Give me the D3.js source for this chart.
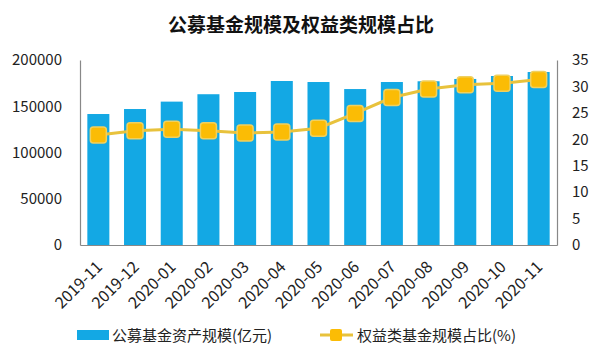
<!DOCTYPE html>
<html><head><meta charset="utf-8">
<script src="https://cdn.jsdelivr.net/npm/d3@7/dist/d3.min.js"></script>
<style>body{margin:0;background:#fff}svg{display:block}</style>
</head><body>
<svg id="c" width="600" height="361"></svg>
<script>
const categories = ["2019-11","2019-12","2020-01","2020-02","2020-03","2020-04","2020-05","2020-06","2020-07","2020-08","2020-09","2020-10","2020-11"];
const fundScale = [141600,147000,155000,163000,165400,177300,176200,168600,176200,177000,179500,182700,187000];
const equityShare = [20.8,21.6,21.9,21.6,21.2,21.4,22.1,24.9,27.9,29.5,30.3,30.6,31.3];
const leftTicks = [0,50000,100000,150000,200000];
const rightTicks = [0,5,10,15,20,25,30,35];
const title = "公募基金规模及权益类规模占比";
const legendBar = "公募基金资产规模(亿元)";
const legendLine = "权益类基金规模占比(%)";

const font = "'Noto Sans CJK SC','Noto Sans',sans-serif";
const svg = d3.select("#c");
const m = {l:80, r:557, t:60, b:245};
const x = d3.scaleBand().domain(categories).range([m.l, m.r]).paddingInner(0.4).paddingOuter(0.2);
const yL = d3.scaleLinear().domain([0,200000]).range([m.b, m.t]);
const yR = d3.scaleLinear().domain([0,35]).range([m.b, m.t]);

svg.append("text").attr("x",301).attr("y",32).attr("text-anchor","middle")
  .attr("font-family",font).attr("font-weight","bold").attr("font-size",19).attr("fill","#111").text(title);

// bars
svg.append("g").selectAll("rect").data(fundScale).join("rect")
  .attr("x",(d,i)=>x(categories[i])).attr("width",x.bandwidth())
  .attr("y",d=>yL(d)).attr("height",d=>yL(0)-yL(d)).attr("fill","#13a8e4");

// axes
const axL = svg.append("g").attr("transform",`translate(${m.l},0)`)
  .call(d3.axisLeft(yL).tickValues(leftTicks).tickSize(0).tickPadding(18).tickFormat(d3.format("d")));
const axR = svg.append("g").attr("transform",`translate(${m.r},0)`)
  .call(d3.axisRight(yR).tickValues(rightTicks).tickSize(0).tickPadding(15));
const axB = svg.append("g").attr("transform",`translate(0,${m.b})`)
  .call(d3.axisBottom(x).tickSize(0).tickPadding(0));
[axL,axR,axB].forEach(a=>{
  a.select(".domain").attr("stroke","#888").attr("stroke-width",1.2);
  a.selectAll("text").attr("font-family",font).attr("font-size",15).attr("fill","#222");
});
axB.selectAll("text").attr("text-anchor","end").attr("dy",0)
  .attr("transform","translate(5,23) rotate(-45)").attr("font-size",16);

// line
const line = d3.line().x((d,i)=>x(categories[i])+x.bandwidth()/2).y(d=>yR(d));
svg.append("path").datum(equityShare).attr("d",line).attr("fill","none")
  .attr("stroke","#e8c23c").attr("stroke-width",3);
svg.append("g").selectAll("rect").data(equityShare).join("rect")
  .attr("x",(d,i)=>x(categories[i])+x.bandwidth()/2-8).attr("y",d=>yR(d)-8)
  .attr("width",16).attr("height",16).attr("rx",3)
  .attr("fill","#fbbc05").attr("stroke","#efd060").attr("stroke-width",1.5);

// legend
const lg = svg.append("g");
lg.append("rect").attr("x",77).attr("y",330).attr("width",32).attr("height",10).attr("fill","#13a8e4");
lg.append("text").attr("x",112).attr("y",341).attr("font-family",font).attr("font-size",15).attr("fill","#222").text(legendBar);
lg.append("line").attr("x1",320).attr("x2",353).attr("y1",335).attr("y2",335).attr("stroke","#e8c23c").attr("stroke-width",3);
lg.append("rect").attr("x",330).attr("y",329).attr("width",12).attr("height",12).attr("rx",2).attr("fill","#fbbc05");
lg.append("text").attr("x",357).attr("y",341).attr("font-family",font).attr("font-size",15).attr("fill","#222").text(legendLine);
</script>
</body></html>
